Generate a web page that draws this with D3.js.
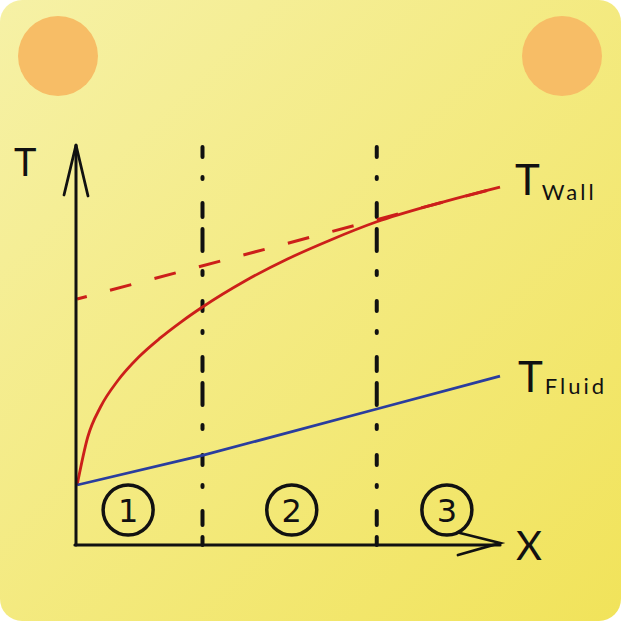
<!DOCTYPE html>
<html><head><meta charset="utf-8">
<script src="https://cdn.jsdelivr.net/npm/d3@7"></script>
<style>html,body{margin:0;padding:0;background:#fff;}svg{display:block;}</style>
</head><body>
<script>
// Data (x: position along channel 0..10, T: temperature 0..10)
const regions = ["1", "2", "3"];
const regionCenters = [1.25, 5.1, 8.75];
const boundaries = [3.0, 7.1];
const wallX = [0.05, 0.3, 0.6, 1.0, 1.5, 2.0, 2.5, 3.0, 4.0, 5.0, 6.0, 7.1, 8.5, 10.0];
const wallT = [1.5, 2.7, 3.45, 4.1, 4.7, 5.17, 5.58, 5.95, 6.6, 7.15, 7.62, 8.08, 8.53, 8.95];
const wallExtX = [0.05, 10.0];
const wallExtT = [6.15, 8.95];
const fluidX = [0.05, 3.0, 7.1, 10.0];
const fluidT = [1.5, 2.24, 3.4, 4.22];
const labels = {wall: ["T", "Wall"], fluid: ["T", "Fluid"], x: "X", y: "T"};

const W = 621, H = 621;
const svg = d3.select("body").append("svg").attr("width", W).attr("height", H);
const defs = svg.append("defs");
const g = defs.append("linearGradient").attr("id", "bg").attr("x1", "0%").attr("y1", "0%").attr("x2", "100%").attr("y2", "100%");
g.append("stop").attr("offset", "0%").attr("stop-color", "#f6f1a6");
g.append("stop").attr("offset", "100%").attr("stop-color", "#f1e35a");
svg.append("rect").attr("x", 0).attr("y", 0).attr("width", W).attr("height", H).attr("rx", 22).attr("fill", "url(#bg)");

svg.append("circle").attr("cx", 58).attr("cy", 56).attr("r", 40).attr("fill", "#f7bd66");
svg.append("circle").attr("cx", 562).attr("cy", 56).attr("r", 40).attr("fill", "#f7bd66");

const x = d3.scaleLinear().domain([0, 10]).range([75, 500]);
const y = d3.scaleLinear().domain([0, 10]).range([545, 145]);

// vertical dash-dot boundaries
boundaries.forEach(b => {
  svg.append("line").attr("x1", x(b)).attr("x2", x(b)).attr("y1", 147).attr("y2", 545)
    .attr("stroke", "#111").attr("stroke-width", 4).attr("stroke-linecap", "round")
    .attr("stroke-dasharray", "10,20,2,24,14,12,22,20,4,26");
});

const line = d3.line().x(d => x(d[0])).y(d => y(d[1]));
const lineC = d3.line().x(d => x(d[0])).y(d => y(d[1])).curve(d3.curveMonotoneX);

svg.append("path").datum(wallExtX.map((v, i) => [v, wallExtT[i]])).attr("d", line)
  .attr("fill", "none").attr("stroke", "#cc1f1a").attr("stroke-width", 3).attr("stroke-dasharray", "22,24").attr("stroke-dashoffset", 12);
svg.append("path").datum(wallX.map((v, i) => [v, wallT[i]])).attr("d", lineC)
  .attr("fill", "none").attr("stroke", "#cc1f1a").attr("stroke-width", 2.8);
svg.append("path").datum(fluidX.map((v, i) => [v, fluidT[i]])).attr("d", line)
  .attr("fill", "none").attr("stroke", "#2a3d9e").attr("stroke-width", 2.8);

// axes
const ax = svg.append("g").attr("stroke", "#111").attr("fill", "none").attr("stroke-linecap", "round");
ax.append("line").attr("x1", x(0) + 1).attr("x2", x(0) + 1).attr("y1", 545).attr("y2", 145).attr("stroke-width", 3);
ax.append("path").attr("d", `M${x(0)-11},195 L${x(0)+1},145 L${x(0)+13},196`).attr("stroke-width", 2.8);
ax.append("line").attr("x1", x(0)).attr("x2", x(10)).attr("y1", 545).attr("y2", 545).attr("stroke-width", 3.2);
ax.append("path").attr("d", `M${x(10)-40},533 L${x(10)},543 L${x(10)-42},555`).attr("stroke-width", 2.8);

// region circles
regions.forEach((r, i) => {
  const cx = x(regionCenters[i]);
  svg.append("circle").attr("cx", cx).attr("cy", 510).attr("r", 25)
    .attr("fill", "none").attr("stroke", "#111").attr("stroke-width", 3.5);
  svg.append("text").attr("x", cx).attr("y", 522).attr("text-anchor", "middle")
    .attr("font-family", "DejaVu Sans").attr("font-size", 32).attr("fill", "#111").text(r);
});

const font = "Lato";
svg.append("text").attr("x", 14).attr("y", 176).attr("font-family", font).attr("font-size", 38).attr("fill", "#111").text(labels.y);
svg.append("text").attr("x", 516).attr("y", 560).attr("font-family", font).attr("font-size", 40).attr("fill", "#111").text(labels.x);

const tw = svg.append("text").attr("x", 515).attr("y", 195).attr("font-family", font).attr("fill", "#111");
tw.append("tspan").attr("font-size", 42).text(labels.wall[0]);
tw.append("tspan").attr("font-size", 22).attr("dx", 2).attr("dy", 5).attr("letter-spacing", 3).text(labels.wall[1]);
const tf = svg.append("text").attr("x", 518).attr("y", 392).attr("font-family", font).attr("fill", "#111");
tf.append("tspan").attr("font-size", 42).text(labels.fluid[0]);
tf.append("tspan").attr("font-size", 22).attr("dx", 2).attr("dy", 2).attr("letter-spacing", 3).text(labels.fluid[1]);
</script>
</body></html>
